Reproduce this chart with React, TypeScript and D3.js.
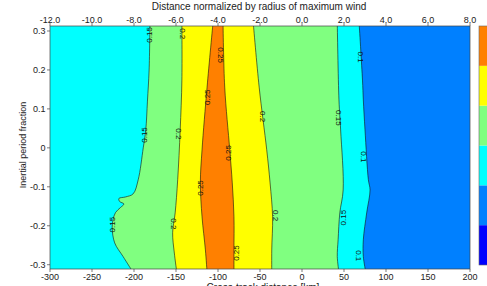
import React from "react";
import * as d3 from "d3";

// Isolines: [cross-track km, inertial period fraction], top to bottom
const iso015Left: [number, number][] = [
  [-181, 0.32], [-182, 0.2], [-184, 0.12], [-186, 0.046], [-189, 0], [-195, -0.082],
  [-201, -0.118], [-210, -0.126], [-218, -0.13], [-217, -0.138], [-212, -0.144],
  [-216, -0.153], [-222, -0.166], [-225, -0.185], [-226, -0.205], [-223, -0.244],
  [-213, -0.279], [-201, -0.32],
];
const iso020Left: [number, number][] = [
  [-143, 0.32], [-143, 0.174], [-145, 0.046], [-148, -0.082], [-151, -0.167],
  [-154, -0.218], [-152, -0.27], [-149, -0.32],
];
const iso025Left: [number, number][] = [
  [-106, 0.32], [-113, 0.156], [-119, -0.005], [-121, -0.09], [-119, -0.177],
  [-115, -0.262], [-113, -0.32],
];
const iso025Right: [number, number][] = [
  [-94, 0.32], [-92, 0.156], [-86, -0.005], [-83, -0.09], [-81, -0.177],
  [-81, -0.262], [-81, -0.32],
];
const iso020Right: [number, number][] = [
  [-58, 0.32], [-51, 0.156], [-42, -0.005], [-38, -0.09], [-35, -0.177],
  [-36, -0.262], [-36, -0.32],
];
const iso015Right: [number, number][] = [
  [42, 0.32], [44, 0.123], [46, 0.046], [49, -0.108], [45, -0.167], [43, -0.236],
  [42, -0.279], [44, -0.32],
];
const iso010Right: [number, number][] = [
  [68, 0.32], [72, 0.174], [73, 0.123], [75, 0.046], [79, -0.082], [81, -0.108],
  [77, -0.167], [73, -0.236], [73, -0.279], [76, -0.32],
];

// colour levels
const levels = [0, 0.05, 0.1, 0.15, 0.2, 0.25, 0.3];
const levelColors = ["#0000FF", "#0080FF", "#00FFFF", "#80FF80", "#FFFF00", "#FF8000"];

// isoline sequence left->right with the colour to its right
const isolines = [iso015Left, iso020Left, iso025Left, iso025Right, iso020Right, iso015Right, iso010Right];
const rightColors = ["#80FF80", "#FFFF00", "#FF8000", "#FFFF00", "#80FF80", "#00FFFF", "#0080FF"];
const leftColor = "#00FFFF";

// contour labels: [km, fraction, text, rotation]
const contourLabels: [number, number, string, number][] = [
  [-181, 0.29, "0.15", -90],
  [-142, 0.293, "0.2", 90],
  [-97, 0.238, "0.25", 90],
  [-113, 0.13, "0.25", -90],
  [-47, 0.08, "0.2", 90],
  [-188, 0.033, "0.15", -90],
  [-147, 0.036, "0.2", 90],
  [-88, -0.013, "0.25", -90],
  [-121, -0.103, "0.25", -90],
  [-78, -0.27, "0.25", -90],
  [-32, -0.174, "0.2", 90],
  [-226, -0.197, "0.15", -90],
  [-153, -0.195, "0.2", 90],
  [70, 0.233, "0.1", 90],
  [43, 0.077, "0.15", 90],
  [73, -0.023, "0.1", 90],
  [49, -0.179, "0.15", -90],
  [67, -0.277, "0.1", 90],
];

const xTicks = [-300, -250, -200, -150, -100, -50, 0, 50, 100, 150, 200];
const topTicks = [-12, -10, -8, -6, -4, -2, 0, 2, 4, 6, 8];
const yTicks = [0.3, 0.2, 0.1, 0, -0.1, -0.2, -0.3];

const W = 487, H = 286;
const L = 50, R = 470, T = 26, B = 269;

export default function App() {
  const x = d3.scaleLinear().domain([-300, 200]).range([L, R]);
  const xTop = d3.scaleLinear().domain([-12, 8]).range([L, R]);
  const y = d3.scaleLinear().domain([-0.311, 0.3128]).range([B, T]);
  const cb = d3.scaleLinear().domain([0, 0.3]).range([265, T]);

  const line = d3
    .line<[number, number]>()
    .x((d) => x(d[0]))
    .y((d) => y(d[1]))
    .curve(d3.curveCatmullRom.alpha(0.5));

  const font = "'Liberation Sans', Arial, sans-serif";
  const txt = "#222";

  return (
    <svg width={W} height={H} style={{ position: "absolute", left: 0, top: 0 }} fontFamily={font}>
      <rect x={0} y={0} width={W} height={H} fill="#fff" />
      <defs>
        <clipPath id="plotclip">
          <rect x={L} y={T} width={R - L} height={B - T} />
        </clipPath>
      </defs>
      <g clipPath="url(#plotclip)">
        <rect x={L} y={T} width={R - L} height={B - T} fill={leftColor} />
        {isolines.map((pts, i) => (
          <path
            key={"f" + i}
            d={line(pts) + `L${R + 5},${y(pts[pts.length - 1][1])}L${R + 5},${y(pts[0][1])}Z`}
            fill={rightColors[i]}
          />
        ))}
        {isolines.map((pts, i) => (
          <path key={"l" + i} d={line(pts) || ""} fill="none" stroke="#111" strokeWidth={0.6} />
        ))}
        {contourLabels.map(([kx, fy, t, r], i) => (
          <text
            key={"c" + i}
            x={x(kx)}
            y={y(fy)}
            fontSize={8}
            fill="#111"
            textAnchor="middle"
            dominantBaseline="central"
            transform={`rotate(${r},${x(kx)},${y(fy)})`}
          >
            {t}
          </text>
        ))}
      </g>
      <rect x={L} y={T} width={R - L} height={B - T} fill="none" stroke="#444" strokeWidth={0.7} />
      {/* bottom axis */}
      {xTicks.map((v) => (
        <g key={"xb" + v}>
          <line x1={x(v)} x2={x(v)} y1={B} y2={B + 3} stroke="#444" strokeWidth={0.7} />
          <text x={x(v)} y={280} fontSize={9} fill={txt} textAnchor="middle">
            {v}
          </text>
        </g>
      ))}
      {/* top axis */}
      {topTicks.map((v) => (
        <g key={"xt" + v}>
          <line x1={xTop(v)} x2={xTop(v)} y1={T} y2={T - 3} stroke="#444" strokeWidth={0.7} />
          <text x={xTop(v)} y={22.5} fontSize={9} fill={txt} textAnchor="middle">
            {v.toFixed(1)}
          </text>
        </g>
      ))}
      {/* left axis */}
      {yTicks.map((v) => (
        <g key={"y" + v}>
          <line x1={L} x2={L - 3} y1={y(v)} y2={y(v)} stroke="#444" strokeWidth={0.7} />
          <text x={45.5} y={y(v) + 3} fontSize={9} fill={txt} textAnchor="end">
            {v === 0 ? "0" : String(v)}
          </text>
        </g>
      ))}
      <text x={259} y={9.5} fontSize={10} fill={txt} textAnchor="middle">
        Distance normalized by radius of maximum wind
      </text>
      <text
        x={0}
        y={0}
        fontSize={9}
        fill={txt}
        textAnchor="middle"
        transform={`translate(26,145) rotate(-90)`}
      >
        Inertial period fraction
      </text>
      <text x={263} y={291} fontSize={10} fill={txt} textAnchor="middle">
        Cross-track distance [km]
      </text>
      {/* colorbar */}
      {levelColors.map((c, i) => (
        <rect
          key={"cb" + i}
          x={479}
          y={cb(levels[i + 1])}
          width={14}
          height={cb(levels[i]) - cb(levels[i + 1])}
          fill={c}
        />
      ))}
      <rect x={479} y={T} width={14} height={265 - T} fill="none" stroke="#666" strokeWidth={0.6} />
    </svg>
  );
}
